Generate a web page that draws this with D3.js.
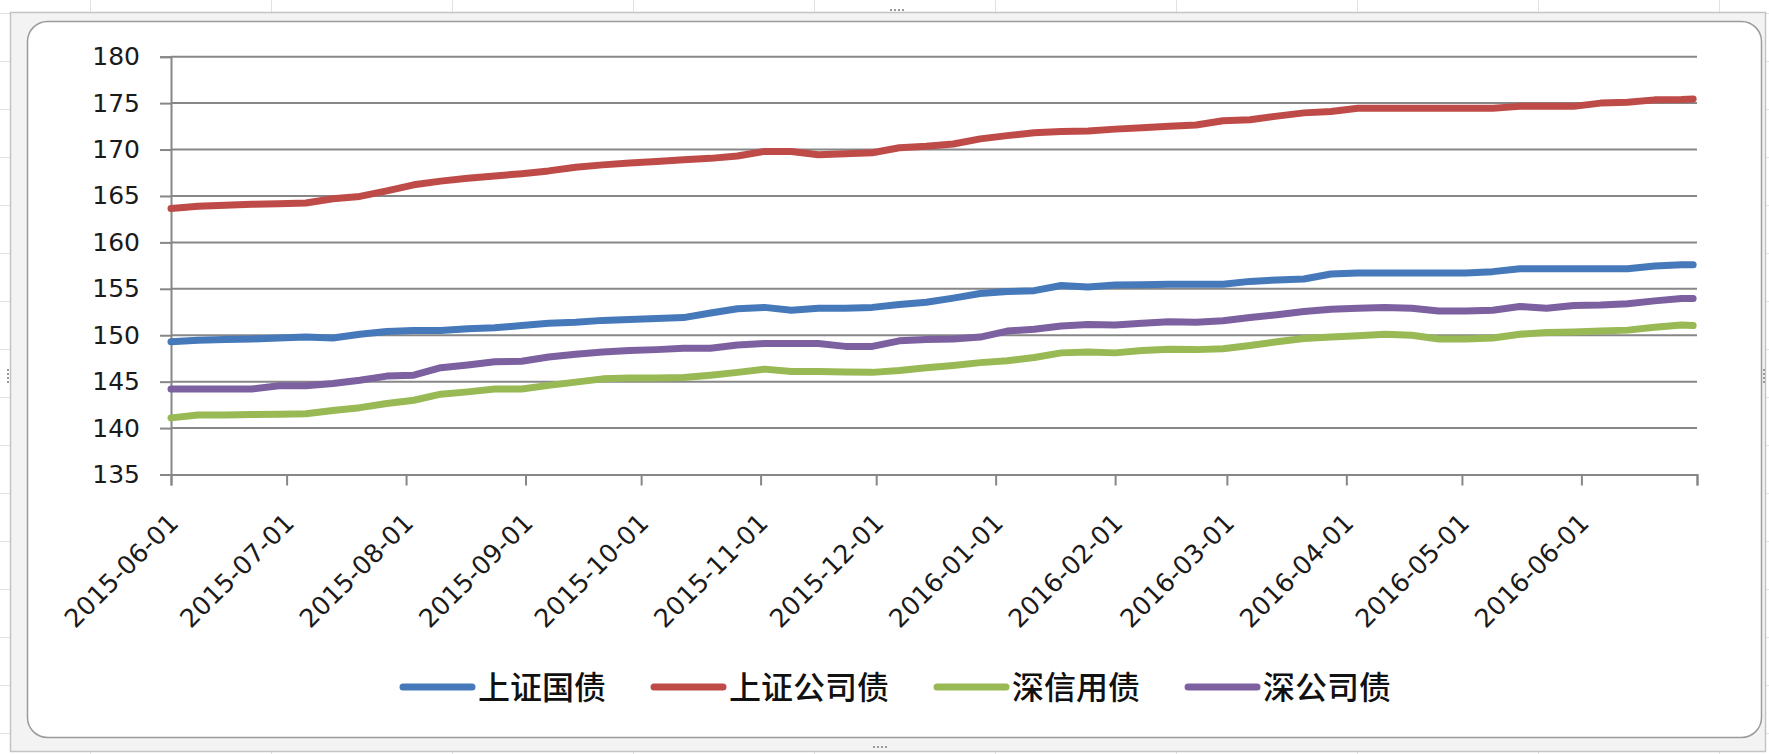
<!DOCTYPE html>
<html>
<head>
<meta charset="utf-8">
<script src="https://cdn.jsdelivr.net/npm/d3@7"></script>
<style>
  html, body { margin: 0; padding: 0; background: #fff; }
  svg { display: block; }
</style>
</head>
<body>
<svg id="chart" width="1769" height="754"></svg>
<script>
// Weekly observations of the four bond indices, 2015-06 to 2016-06
const dates = [
  "2015-06-01","2015-06-08","2015-06-15","2015-06-22","2015-06-29","2015-07-06","2015-07-13","2015-07-20",
  "2015-07-27","2015-08-03","2015-08-10","2015-08-17","2015-08-24","2015-08-31","2015-09-07","2015-09-14",
  "2015-09-21","2015-09-28","2015-10-05","2015-10-12","2015-10-19","2015-10-26","2015-11-02","2015-11-09",
  "2015-11-16","2015-11-23","2015-11-30","2015-12-07","2015-12-14","2015-12-21","2015-12-28","2016-01-04",
  "2016-01-11","2016-01-18","2016-01-25","2016-02-01","2016-02-08","2016-02-15","2016-02-22","2016-02-29",
  "2016-03-07","2016-03-14","2016-03-21","2016-03-28","2016-04-04","2016-04-11","2016-04-18","2016-04-25",
  "2016-05-02","2016-05-09","2016-05-16","2016-05-23","2016-05-30","2016-06-06","2016-06-13","2016-06-20",
  "2016-06-27","2016-06-30"
];

const seriesNames = ["上证国债", "上证公司债", "深信用债", "深公司债"];

const shGovBond = [
  149.3,149.45,149.55,149.6,149.7,149.8,149.7,150.1,
  150.4,150.5,150.5,150.7,150.8,151.05,151.3,151.4,
  151.6,151.7,151.8,151.9,152.4,152.85,153.0,152.7,
  152.9,152.9,153.0,153.3,153.55,154.0,154.5,154.7,
  154.8,155.35,155.2,155.4,155.45,155.5,155.5,155.5,
  155.8,155.95,156.05,156.6,156.7,156.7,156.7,156.7,
  156.7,156.85,157.15,157.15,157.15,157.15,157.15,157.45,
  157.6,157.6
];

const shCorpBond = [
  163.65,163.9,164.0,164.1,164.15,164.25,164.7,164.95,
  165.55,166.2,166.6,166.9,167.15,167.4,167.7,168.1,
  168.35,168.55,168.7,168.9,169.05,169.3,169.8,169.8,
  169.45,169.55,169.65,170.2,170.35,170.6,171.15,171.5,
  171.8,171.95,172.0,172.2,172.35,172.5,172.65,173.1,
  173.2,173.6,173.95,174.1,174.45,174.45,174.45,174.45,
  174.45,174.45,174.65,174.65,174.65,175.0,175.1,175.35,
  175.4,175.45
];

const szCreditBond = [
  141.1,141.4,141.4,141.45,141.5,141.55,141.9,142.2,
  142.65,143.0,143.65,143.9,144.2,144.2,144.6,144.95,
  145.3,145.4,145.4,145.45,145.7,146.0,146.35,146.1,
  146.1,146.05,146.0,146.2,146.5,146.75,147.05,147.25,
  147.6,148.1,148.2,148.1,148.35,148.5,148.45,148.55,
  148.9,149.3,149.65,149.8,149.95,150.1,150.0,149.6,
  149.6,149.7,150.1,150.3,150.35,150.45,150.55,150.85,
  151.1,151.05
];

const szCorpBond = [
  144.2,144.2,144.2,144.2,144.55,144.55,144.8,145.15,
  145.6,145.7,146.5,146.8,147.15,147.2,147.65,147.95,
  148.2,148.35,148.45,148.6,148.6,148.95,149.1,149.1,
  149.1,148.8,148.8,149.4,149.55,149.6,149.8,150.45,
  150.65,151.0,151.15,151.1,151.3,151.45,151.4,151.55,
  151.9,152.2,152.55,152.8,152.9,153.0,152.9,152.6,
  152.6,152.7,153.1,152.9,153.2,153.25,153.4,153.7,
  153.95,153.95
];

const yTicks = [135, 140, 145, 150, 155, 160, 165, 170, 175, 180];
const monthTicks = [
  "2015-06-01","2015-07-01","2015-08-01","2015-09-01","2015-10-01","2015-11-01","2015-12-01",
  "2016-01-01","2016-02-01","2016-03-01","2016-04-01","2016-05-01","2016-06-01"
];
const axisStart = "2015-06-01";
const axisEnd = "2016-07-01";

const colors = ["#4679BA", "#BE4B48", "#98B954", "#7D60A0"];

const parse = d3.timeParse("%Y-%m-%d");
const fmt = d3.timeFormat("%Y-%m-%d");

const W = 1769, H = 754;
const plot = { left: 171, right: 1697, top: 56.7, bottom: 474.5 };
const axisFont = "'DejaVu Sans', Verdana, sans-serif";

const svg = d3.select("#chart");

// ---- spreadsheet backdrop and chart frame ----
svg.append("rect").attr("x", 0).attr("y", 0).attr("width", W).attr("height", H).attr("fill", "#ffffff");
const sheet = svg.append("g").attr("stroke", "#e2e2e2").attr("stroke-width", 1);
for (let x = 90.5; x < W; x += 181) sheet.append("line").attr("x1", x).attr("x2", x).attr("y1", 0).attr("y2", H);
for (let y = 13.5; y < H; y += 48) sheet.append("line").attr("x1", 0).attr("x2", W).attr("y1", y).attr("y2", y);

svg.append("rect")
  .attr("x", 10.5).attr("y", 12.5).attr("width", 1755).attr("height", 739)
  .attr("fill", "#f3f3f3").attr("stroke", "#c4c4c4").attr("stroke-width", 1.5);

svg.append("rect")
  .attr("x", 27.5).attr("y", 21.5).attr("width", 1734).attr("height", 716)
  .attr("rx", 20).attr("ry", 20)
  .attr("fill", "#ffffff").attr("stroke", "#9b9b9b").attr("stroke-width", 1.5);

// frame sizing handles (small dotted grips)
function grip(cx, cy, horizontal) {
  const g = svg.append("g").attr("fill", "#9a9a9a");
  for (let i = 0; i < 4; i++) {
    g.append("rect")
      .attr("x", horizontal ? cx - 7 + i * 4 : cx - 1)
      .attr("y", horizontal ? cy - 1 : cy - 7 + i * 4)
      .attr("width", 2).attr("height", 2);
  }
}
grip(897, 10, true);
grip(880, 747, true);
grip(8, 376, false);
grip(1764, 376, false);

// ---- scales ----
const x = d3.scaleTime()
  .domain([parse(axisStart), parse(axisEnd)])
  .range([plot.left, plot.right]);

const y = d3.scaleLinear()
  .domain([135, 180])
  .range([plot.bottom, plot.top]);

const gridColor = "#878787";

// horizontal gridlines
svg.append("g")
  .selectAll("line")
  .data(yTicks.filter(v => v !== 135))
  .join("line")
  .attr("x1", plot.left).attr("x2", plot.right)
  .attr("y1", d => y(d)).attr("y2", d => y(d))
  .attr("stroke", gridColor).attr("stroke-width", 2);

// y axis
const yAxis = svg.append("g")
  .attr("transform", `translate(${plot.left},0)`)
  .call(d3.axisLeft(y).tickValues(yTicks).tickSize(11).tickPadding(20).tickFormat(d3.format("d")));
yAxis.select(".domain").attr("stroke", gridColor).attr("stroke-width", 2);
yAxis.selectAll(".tick line").attr("stroke", gridColor).attr("stroke-width", 2);
yAxis.selectAll(".tick text")
  .attr("fill", "#1a1a1a")
  .style("font-family", axisFont)
  .style("font-size", "25px");

// x axis
const xTickDates = monthTicks.map(parse).concat([parse(axisEnd)]);
const xAxis = svg.append("g")
  .attr("transform", `translate(0,${plot.bottom})`)
  .call(d3.axisBottom(x).tickValues(xTickDates).tickSize(11)
    .tickFormat(d => (fmt(d) === axisEnd ? "" : fmt(d))));
xAxis.select(".domain").attr("stroke", gridColor).attr("stroke-width", 2);
xAxis.selectAll(".tick line").attr("stroke", gridColor).attr("stroke-width", 2);
xAxis.selectAll(".tick text")
  .attr("fill", "#1a1a1a")
  .attr("text-anchor", "end")
  .attr("x", null).attr("y", null).attr("dy", null)
  .attr("transform", "translate(8.5,50) rotate(-45)")
  .style("font-family", axisFont)
  .style("font-size", "25.5px");

// ---- series lines ----
const parsedDates = dates.map(parse);
const seriesValues = [shGovBond, shCorpBond, szCreditBond, szCorpBond];

const line = d3.line()
  .x((d, i) => x(parsedDates[i]))
  .y(d => y(d));

svg.append("g")
  .selectAll("path")
  .data(seriesValues)
  .join("path")
  .attr("d", d => line(d))
  .attr("fill", "none")
  .attr("stroke", (d, i) => colors[i])
  .attr("stroke-width", 7)
  .attr("stroke-linejoin", "round")
  .attr("stroke-linecap", "round");

// ---- legend ----
const legend = svg.append("g").attr("transform", "translate(403,687)");
let cursor = 0;
seriesNames.forEach((name, i) => {
  const item = legend.append("g").attr("transform", `translate(${cursor},0)`);
  item.append("line")
    .attr("x1", 0).attr("x2", 69).attr("y1", 0).attr("y2", 0)
    .attr("stroke", colors[i]).attr("stroke-width", 7).attr("stroke-linecap", "round");
  const t = item.append("text")
    .attr("x", 75).attr("y", 0).attr("dy", "0.36em")
    .attr("fill", "#111")
    .style("font-family", "'Noto Sans CJK SC', sans-serif")
    .style("font-size", "32px")
    .style("font-weight", 500)
    .text(name);
  cursor += 75 + t.node().getComputedTextLength() + 48;
});
</script>
</body>
</html>
